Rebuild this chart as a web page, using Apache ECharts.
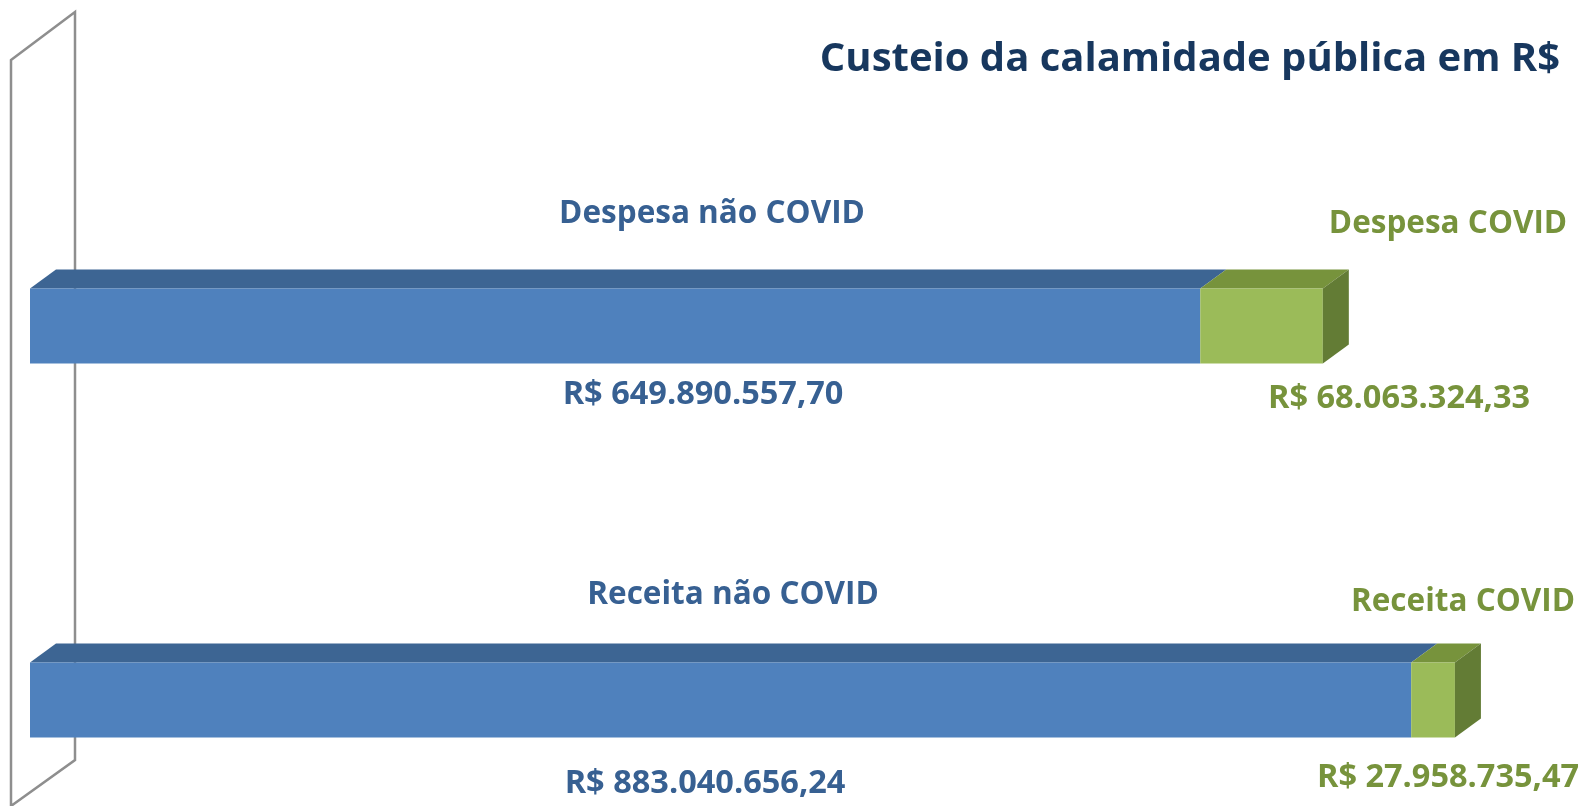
<!DOCTYPE html>
<html>
<head>
<meta charset="utf-8">
<script src="https://cdn.jsdelivr.net/npm/echarts@6/dist/echarts.min.js"></script>
<style>
  html, body { margin: 0; padding: 0; background: #fff; }
  #chart { width: 1585px; height: 806px; }
</style>
</head>
<body>
<div id="chart"></div>
<script>
// dados
var categories = ['Despesa', 'Receita'];
var nonCovid = [649890557.70, 883040656.24];
var covid = [68063324.33, 27958735.47];
var nonCovidNames = ['Despesa não COVID', 'Receita não COVID'];
var covidNames = ['Despesa COVID', 'Receita COVID'];
var chartTitle = 'Custeio da calamidade pública em R$';

// cada barra tem a sua propria escala no original
var axisMax = [833e6, 959e6];

var colors = [
  { front: '#4F81BD', top: '#3D6593', side: '#3A5F8C' },
  { front: '#9BBB59', top: '#77933C', side: '#637C35' }
];
var FONT = '"Open Sans", "DejaVu Sans", sans-serif';
var BLUE_TXT = '#376092', GREEN_TXT = '#77933C';

function brl (v) {
  var p = v.toFixed(2).split('.');
  return 'R$ ' + p[0].replace(/\B(?=(\d{3})+(?!\d))/g, '.') + ',' + p[1];
}

// barra "3D": frente, topo e lateral
function renderBar (params, api) {
  var a = api.coord([api.value(0), api.value(3)]);
  var b = api.coord([api.value(1), api.value(3)]);
  var seg = api.value(2);
  var h = 75, dx = 26, dy = -19;
  var top = a[1] - h / 2;
  var c = colors[seg];
  var children = [
    { type: 'polygon', shape: { points: [[a[0], top], [a[0] + dx, top + dy], [b[0] + dx, top + dy], [b[0], top]] }, style: { fill: c.top } },
    { type: 'rect', shape: { x: a[0], y: top, width: b[0] - a[0], height: h }, style: { fill: c.front } }
  ];
  if (seg === 1) {
    children.push({ type: 'polygon', shape: { points: [[b[0], top], [b[0] + dx, top + dy], [b[0] + dx, top + h + dy], [b[0], top + h]] }, style: { fill: c.side } });
  }
  return { type: 'group', children: children };
}

var grids = [], xAxes = [], yAxes = [], series = [];
categories.forEach(function (cat, i) {
  grids.push({ left: 30, width: 1500, top: i === 0 ? 251 : 625, height: 150 });
  xAxes.push({ type: 'value', gridIndex: i, min: 0, max: axisMax[i], show: false });
  yAxes.push({ type: 'category', gridIndex: i, data: [cat], show: false });
  series.push({
    type: 'custom',
    xAxisIndex: i,
    yAxisIndex: i,
    renderItem: renderBar,
    encode: { x: [0, 1], y: 3 },
    data: [
      [0, nonCovid[i], 0, cat],
      [nonCovid[i], nonCovid[i] + covid[i], 1, cat]
    ],
    silent: true
  });
});

function txt (s, x, y, size, color) {
  return {
    type: 'text', x: x, y: y, z: 10,
    style: { text: s, fill: color, font: 'bold ' + size + 'px ' + FONT, textAlign: 'center', textVerticalAlign: 'middle' }
  };
}

var myChart = echarts.init(document.getElementById('chart'));
myChart.setOption({
  animation: false,
  backgroundColor: '#fff',
  grid: grids,
  xAxis: xAxes,
  yAxis: yAxes,
  series: series,
  graphic: [
    // parede lateral
    { type: 'polygon', z: 0, shape: { points: [[11, 60], [75, 12], [75, 760], [11, 806]] }, style: { fill: 'none', stroke: '#8E8E8E', lineWidth: 2.5 } },
    txt(chartTitle, 1190, 60, 40, '#17375E'),
    txt(nonCovidNames[0], 712, 214, 31.5, BLUE_TXT),
    txt(covidNames[0], 1448, 224, 31.5, GREEN_TXT),
    txt(brl(nonCovid[0]), 703, 395, 32.5, BLUE_TXT),
    txt(brl(covid[0]), 1399, 399, 32.5, GREEN_TXT),
    txt(nonCovidNames[1], 733, 595, 31.5, BLUE_TXT),
    txt(covidNames[1], 1463, 602, 31.5, GREEN_TXT),
    txt(brl(nonCovid[1]), 705, 784, 32.5, BLUE_TXT),
    txt(brl(covid[1]), 1448, 778, 32.5, GREEN_TXT)
  ]
});
</script>
</body>
</html>
